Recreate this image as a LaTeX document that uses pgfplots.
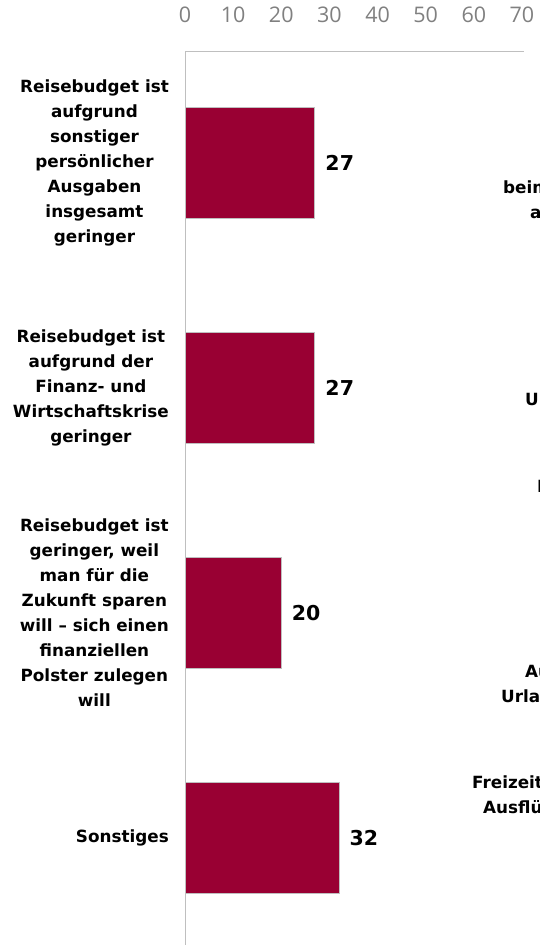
\documentclass[border=0pt]{standalone}
\usepackage{pgfplots}
\pgfplotsset{compat=1.18}
\usepackage{fontspec}
\setmainfont{DejaVu Sans}
\newfontfamily\opensans{Open Sans}
\definecolor{barred}{HTML}{990033}
\definecolor{axgray}{HTML}{BFBFBF}
\definecolor{tickgray}{HTML}{808080}
\begin{document}
\begin{tikzpicture}
\begin{axis}[
  at={(185pt,-51pt)}, anchor=north west,
  scale only axis,
  width=339.4pt, height=899pt,
  xbar, bar width=111pt,
  xmin=0, xmax=70.5,
  ymin=-0.5, ymax=3.5,
  y dir=reverse,
  axis x line*=top, axis y line*=left,
  axis line style={-, draw=axgray, line width=1pt},
  major tick length=0pt,
  xtick={0,10,...,70},
  ytick={0,1,2,3},
  yticklabels={
    {Reisebudget ist\\aufgrund\\sonstiger\\persönlicher\\Ausgaben\\insgesamt\\geringer},
    {Reisebudget ist\\aufgrund der\\Finanz- und\\Wirtschaftskrise\\geringer},
    {Reisebudget ist\\geringer, weil\\man für die\\Zukunft sparen\\will -- sich einen\\finanziellen\\Polster zulegen\\will},
    {Sonstiges}},
  /pgf/number format/assume math mode=true,
  xticklabel style={font=\opensans\fontsize{21.5}{21.5}\selectfont, text=tickgray, inner sep=0pt, anchor=base, yshift=29pt},
  yticklabel style={font=\fontsize{16.8}{25}\selectfont\bfseries, align=center, anchor=east, inner sep=0pt, xshift=-16pt},
  nodes near coords,
  nodes near coords style={font=\fontsize{20.5}{20.5}\selectfont\bfseries, text=black, anchor=west, inner sep=0pt, xshift=10pt},
  clip=false,
]
\addplot[fill=barred, draw=axgray, line width=1pt] coordinates {(27,0) (27,1) (20,2) (32,3)};
\end{axis}
\begin{scope}[font=\fontsize{16.8}{25}\selectfont\bfseries]
\node[anchor=base west, inner sep=0pt] at (503pt,-193pt) {beim};
\node[anchor=base west, inner sep=0pt] at (530pt,-218pt) {an};
\node[anchor=base west, inner sep=0pt] at (525pt,-405pt) {Urlaub};
\node[anchor=base west, inner sep=0pt] at (537pt,-492pt) {Im};
\node[anchor=base west, inner sep=0pt] at (525pt,-677pt) {Auf};
\node[anchor=base west, inner sep=0pt] at (501pt,-702pt) {Urlaub};
\node[anchor=base west, inner sep=0pt] at (472pt,-788pt) {Freizeit};
\node[anchor=base west, inner sep=0pt] at (483pt,-813pt) {Ausflüge};
\end{scope}
\pgfresetboundingbox
\path (0,0) rectangle (540pt,-945pt);
\end{tikzpicture}
\end{document}
